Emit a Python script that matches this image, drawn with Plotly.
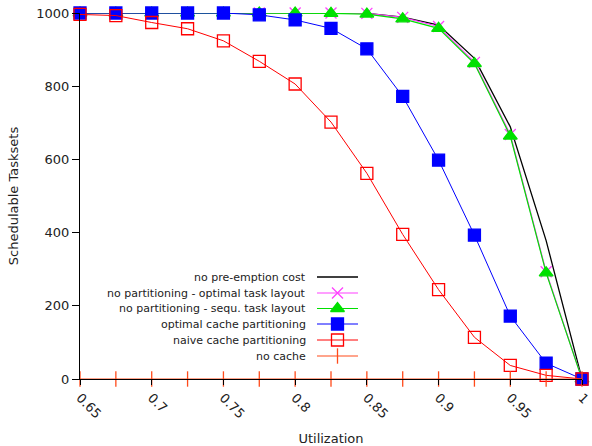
import plotly.graph_objects as go

# Utilization levels (x) and number of schedulable tasksets per configuration
utilization = [0.65, 0.675, 0.7, 0.725, 0.75, 0.775, 0.8, 0.825,
               0.85, 0.875, 0.9, 0.925, 0.95, 0.975, 1.0]

no_preemption_cost = [1000, 1000, 1000, 1000, 1000, 1000, 1000, 1000,
                      999, 989, 967, 876, 689, 378, 0]
no_part_optimal = [1000, 1000, 1000, 1000, 1000, 1000, 1000, 1000,
                   999, 988, 963, 865, 668, 293, 0]
no_part_sequ = [1000, 1000, 1000, 1000, 1000, 1000, 1000, 999,
                997, 984, 958, 862, 664, 290, 0]
optimal_cache_part = [1000, 1000, 1000, 1000, 1000, 995, 981, 958,
                      902, 772, 598, 393, 172, 43, 0]
naive_cache_part = [996, 993, 974, 957, 924, 868, 806, 702,
                    562, 395, 244, 114, 37, 10, 0]
no_cache = [0, 0, 0, 0, 0, 0, 0, 0, 0, 0, 0, 0, 0, 0, 0]

x_ticks = [0.65, 0.7, 0.75, 0.8, 0.85, 0.9, 0.95, 1.0]
x_tick_text = ["0.65", "0.7", "0.75", "0.8", "0.85", "0.9", "0.95", "1"]
y_ticks = [0, 200, 400, 600, 800, 1000]

FONT = "DejaVu Sans"

series = [
    # name, values, color, symbol, marker size, line width
    ("no pre-emption cost", no_preemption_cost, "#000000", None, 0, 1.3),
    ("no partitioning - optimal task layout", no_part_optimal, "#ff40ff", "x-thin-open", 11, 1.2),
    ("no partitioning - sequ. task layout", no_part_sequ, "#00e000", "triangle-up", 12, 1.2),
    ("optimal cache partitioning", optimal_cache_part, "#0000ff", "square", 12, 1.0),
    ("naive cache partitioning", naive_cache_part, "#ff0000", "square-open", 12, 1.0),
    ("no cache", no_cache, "#ff4a1a", "line-ns-open", 11, 1.2),
]

fig = go.Figure()

for name, vals, color, symbol, msize, lw in series:
    marker = dict(color=color, size=msize, symbol=symbol,
                  line=dict(color=color, width=1.3)) if symbol else None
    fig.add_trace(go.Scatter(
        x=utilization, y=vals, name=name,
        mode="lines+markers" if symbol else "lines",
        line=dict(color=color, width=lw),
        marker=marker, cliponaxis=False, showlegend=False,
    ))

# Key drawn on an overlay axis in plot-pixel units: text on the left, sample on the right
key_rows = [277, 293, 308.5, 324, 340, 356]
for (name, vals, color, symbol, msize, lw), ky in zip(series, key_rows):
    fig.add_trace(go.Scatter(
        x=[317, 358], y=[ky, ky], xaxis="x2", yaxis="y2", mode="lines",
        line=dict(color=color, width=lw), showlegend=False, hoverinfo="skip",
    ))
    if symbol:
        fig.add_trace(go.Scatter(
            x=[337.5], y=[ky], xaxis="x2", yaxis="y2", mode="markers",
            marker=dict(color=color, size=msize, symbol=symbol,
                        line=dict(color=color, width=1.3)),
            showlegend=False, hoverinfo="skip", cliponaxis=False,
        ))
    fig.add_annotation(x=308, y=ky, xref="x2", yref="y2", text=name,
                       showarrow=False, xanchor="right", yanchor="middle",
                       font=dict(family=FONT, size=11, color="#222222"))

fig.update_layout(
    width=592, height=446,
    margin=dict(l=80, r=10, t=13, b=67),
    paper_bgcolor="white", plot_bgcolor="white",
    font=dict(family=FONT, size=13, color="#222222"),
    showlegend=False,
    xaxis=dict(
        range=[0.65, 1.0], tickvals=x_ticks, ticktext=x_tick_text,
        tickangle=45, ticks="outside", ticklen=5, tickcolor="#000000",
        showline=True, linecolor="#000000", linewidth=1.3,
        showgrid=False, zeroline=False, automargin=False,
        title=dict(text="Utilization", font=dict(size=13), standoff=14),
    ),
    yaxis=dict(
        range=[0, 1000], tickvals=y_ticks, ticks="outside", ticklen=7,
        tickcolor="#000000", showline=True, linecolor="#000000", linewidth=1.3,
        showgrid=False, zeroline=False, automargin=False,
        title=dict(text="Schedulable Tasksets", font=dict(size=13), standoff=14),
    ),
    xaxis2=dict(range=[80, 582], overlaying="x", visible=False, fixedrange=True),
    yaxis2=dict(range=[379, 13], overlaying="y", visible=False, fixedrange=True),
)

fig.write_html("out.html")
